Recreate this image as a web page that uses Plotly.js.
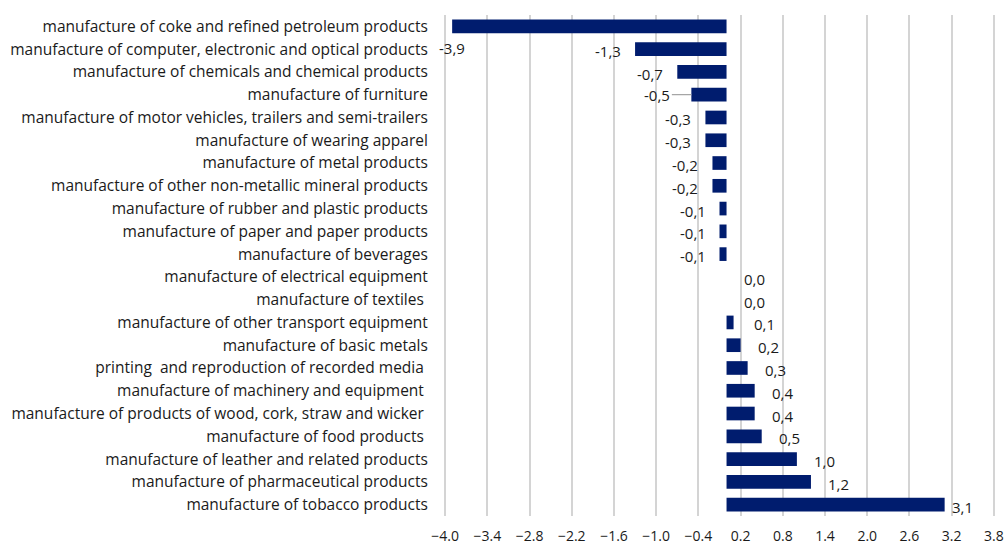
<!DOCTYPE html>
<html><head><meta charset="utf-8">
<script src="https://cdn.plot.ly/plotly-3.0.1.min.js"></script>
<style>html,body{margin:0;padding:0;background:#fff}#chart{width:1008px;height:544px}</style>
</head><body><div id="chart"></div>
<script>
const categories = [
  "manufacture of coke and refined petroleum products",
  "manufacture of computer, electronic and optical products",
  "manufacture of chemicals and chemical products",
  "manufacture of furniture",
  "manufacture of motor vehicles, trailers and semi-trailers",
  "manufacture of wearing apparel",
  "manufacture of metal products",
  "manufacture of other non-metallic mineral products",
  "manufacture of rubber and plastic products",
  "manufacture of paper and paper products",
  "manufacture of beverages",
  "manufacture of electrical equipment",
  "manufacture of textiles ",
  "manufacture of other transport equipment",
  "manufacture of basic metals",
  "printing  and reproduction of recorded media ",
  "manufacture of machinery and equipment ",
  "manufacture of products of wood, cork, straw and wicker ",
  "manufacture of food products ",
  "manufacture of leather and related products",
  "manufacture of pharmaceutical products",
  "manufacture of tobacco products"
];
const values = [-3.9, -1.3, -0.7, -0.5, -0.3, -0.3, -0.2, -0.2, -0.1, -0.1, -0.1,
                0.0, 0.0, 0.1, 0.2, 0.3, 0.4, 0.4, 0.5, 1.0, 1.2, 3.1];
const tickVals = [-4.0, -3.4, -2.8, -2.2, -1.6, -1.0, -0.4, 0.2, 0.8, 1.4, 2.0, 2.6, 3.2, 3.8];

const FONT = "'Open Sans', 'Noto Sans', sans-serif";
const BAR = "#001C6E";

const annotations = values.map((v, i) => {
  const txt = v.toFixed(1).replace('.', ',');
  const a = {x: v, y: categories[i], text: txt, showarrow: false,
    font: {family: FONT, size: 15, color: '#1a1a1a'}, yshift: -2};
  if (i === 0) {            // label below the long first bar
    a.xanchor = 'center'; a.yshift = -22; a.xshift = 0;
  } else if (i === 3) {     // label with leader line
    a.showarrow = true; a.arrowhead = 0; a.arrowcolor = '#a6a6a6'; a.arrowwidth = 1.2;
    a.ax = -34; a.ay = 0; a.yshift = 0; a.standoff = 0;
  } else if (v < 0) {
    a.xanchor = 'right'; a.xshift = -12;
  } else {
    a.xanchor = 'left';
    a.xshift = (i === categories.length - 1) ? 5 : (v > 0 && v < 0.15 ? 18 : 15);
  }
  return a;
});

const data = [{
  type: 'bar', orientation: 'h', x: values, y: categories,
  marker: {color: BAR, line: {width: 0}},
  width: 0.6, hoverinfo: 'x+y'
}];

const layout = {
  width: 1008, height: 544,
  margin: {l: 443, r: 12, t: 15, b: 28, pad: 0},
  paper_bgcolor: '#fff', plot_bgcolor: '#fff',
  showlegend: false,
  separators: '.,',
  font: {family: FONT, size: 14, color: '#1a1a1a'},
  xaxis: {
    range: [-4.03, 3.83], tickvals: tickVals, tickformat: '.1f',
    showgrid: true, gridcolor: '#d4d4d4', gridwidth: 2,
    zeroline: false, showline: false,
    ticks: 'outside', ticklen: 7, tickcolor: 'rgba(0,0,0,0)',
    tickfont: {family: FONT, size: 14, color: '#1a1a1a'}
  },
  yaxis: {
    type: 'category', range: [categories.length - 0.5, -0.5], autorange: false,
    showgrid: false, zeroline: false, showline: false,
    ticks: 'outside', ticklen: 11, tickcolor: 'rgba(0,0,0,0)',
    tickfont: {family: FONT, size: 15.5, color: '#1a1a1a'}
  },
  annotations: annotations
};

Plotly.newPlot('chart', data, layout, {displayModeBar: false, staticPlot: true});
</script>
</body></html>
